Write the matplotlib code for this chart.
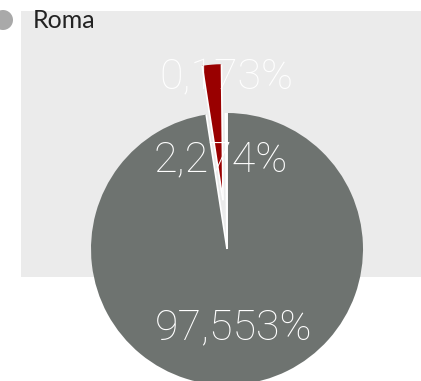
import numpy as np
import matplotlib
matplotlib.use("Agg")
import matplotlib.pyplot as plt
from matplotlib.patches import Rectangle, Circle

plt.rcParams['font.family'] = ['Lato', 'DejaVu Sans']

# Data
series_name = "Roma"
shares = [0.173, 2.274, 97.553]
labels = ["0,173%", "2,274%", "97,553%"]
colors = ["#b0b0b0", "#990000", "#6e7370"]
explode = [0.0, 0.36, 0.0]

W, H = 421, 381
fig = plt.figure(figsize=(W / 100, H / 100), dpi=100)
ax = fig.add_axes([0, 0, 1, 1])

# plot area background
ax.add_patch(Rectangle((21, H - 277), 400, 266, facecolor="#ebebeb",
                       edgecolor="none", zorder=0))

cx, cy, r = 227, H - 249, 136
wedges, _ = ax.pie(shares, colors=colors,
                   explode=[e * r for e in explode], startangle=90,
                   counterclock=True, radius=r, center=(cx, cy),
                   wedgeprops=dict(edgecolor="none", linewidth=0),
                   frame=True)

# white separators along the straight sides of each slice
for w in wedges:
    wx, wy = w.center
    for th in (w.theta1, w.theta2):
        t = np.deg2rad(th)
        ax.plot([wx, wx + w.r * np.cos(t)], [wy, wy + w.r * np.sin(t)],
                color="white", lw=1.2, solid_capstyle="butt", zorder=3)

ax.set_xlim(0, W)
ax.set_ylim(0, H)
ax.set_aspect('equal')
ax.axis('off')

# value labels: baseline placed along each slice bisector
label_font = dict(family=['Roboto', 'DejaVu Sans'], weight='light', size=31)
label_dist = [1.176, 0.576, 0.67]
for w, lab, d in zip(wedges, labels, label_dist):
    ang = np.deg2rad((w.theta1 + w.theta2) / 2)
    x = cx + d * r * np.cos(ang)
    y = cy + d * r * np.sin(ang)
    ax.text(x, y, lab, color="white", ha="center", va="baseline", zorder=5,
            **label_font)

# legend
ax.add_patch(Circle((3, H - 20), 10, facecolor="#a9a9a9", edgecolor="none",
                    clip_on=False))
ax.text(33, H - 20, series_name, fontsize=18, color="#222222",
        ha="left", va="center")

fig.savefig("out.png", dpi=100)
